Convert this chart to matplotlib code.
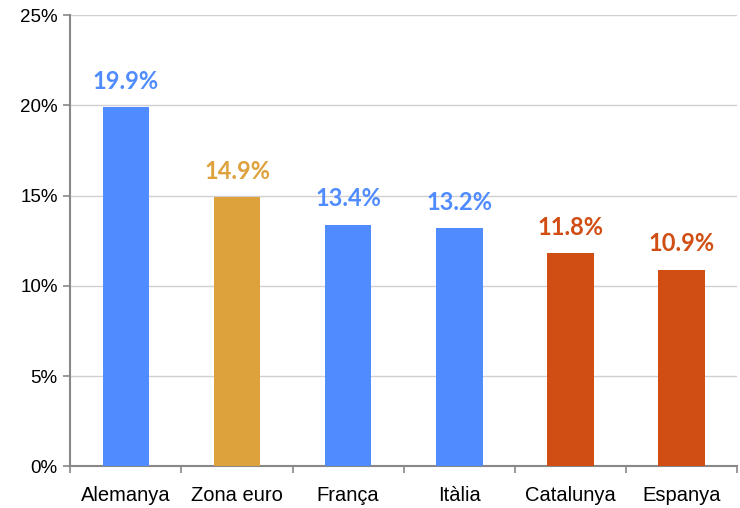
import numpy as np
import matplotlib.pyplot as plt
from matplotlib.ticker import FuncFormatter

categories = ['Alemanya', 'Zona euro', 'França', 'Itàlia', 'Catalunya', 'Espanya']
values = [19.9, 14.9, 13.4, 13.2, 11.8, 10.9]
colors = ['#508CFF', '#DEA23D', '#508CFF', '#508CFF', '#D04E14', '#D04E14']

fig = plt.figure(figsize=(7.4, 5.08), dpi=100)
ax = fig.add_axes([0.095, 0.082, 0.901, 0.888])

x = np.arange(len(categories))
ax.bar(x, values, width=0.42, color=colors, zorder=3)

for xi, v, c in zip(x, values, colors):
    ax.text(xi, v + 0.8, f'{v:.1f}%', ha='center', va='bottom', color=c,
            fontsize=17, fontweight='bold', family='Lato')

ax.set_ylim(0, 25)
ax.set_xlim(-0.5, len(categories) - 0.5)
ax.set_yticks(np.arange(0, 26, 5))
ax.yaxis.set_major_formatter(FuncFormatter(lambda v, p: f'{v:.0f}%'))
ax.yaxis.grid(True, color='#D0D0D0', linewidth=1, zorder=0)

ax.set_xticks(x)
ax.set_xticklabels(categories)
ax.set_xticks(np.arange(-0.5, len(categories)), minor=True)
ax.tick_params(axis='x', which='major', length=0, pad=14)
ax.tick_params(axis='x', which='minor', length=5, color='#888888', width=1.2)
ax.tick_params(axis='y', length=5, color='#888888', width=1.2, pad=4)
ax.tick_params(axis='x', labelsize=14.5)
ax.tick_params(axis='y', labelsize=13.5)
for lab in ax.get_xticklabels() + ax.get_yticklabels():
    lab.set_family('Liberation Sans')

for side in ['top', 'right']:
    ax.spines[side].set_visible(False)
for side in ['left', 'bottom']:
    ax.spines[side].set_color('#888888')
    ax.spines[side].set_linewidth(1.5)

fig.savefig('out.png', dpi=100)
